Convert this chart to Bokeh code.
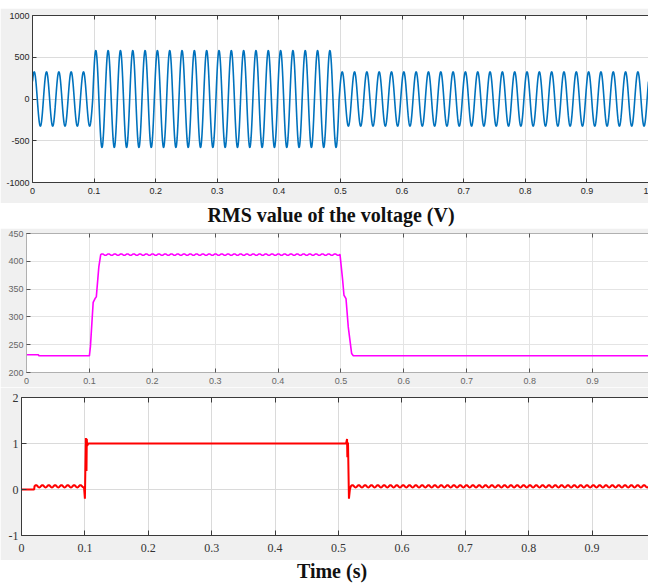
import numpy as np
from bokeh.plotting import figure
from bokeh.models import FixedTicker, LinearAxis, Div, Range1d
from bokeh.layouts import column
from bokeh.embed import file_html
from bokeh.resources import INLINE

# ---------------- data ----------------
# Panel 1: instantaneous voltage (segments of a 50 Hz sine)
v_freq = 50.0
v_phase = 0.7
v_seg_start = [0.0, 0.0978, 0.4978]
v_seg_amp = [325.0, 580.0, 325.0]
v_t_end = 1.0
v_dt = 0.0002

# Panel 2: RMS value of the voltage (breakpoints)
rms_t = [0.0, 0.019, 0.0195, 0.1, 0.1016, 0.106, 0.109, 0.111, 0.115, 0.118,
         0.4985, 0.5027, 0.5048, 0.508, 0.5116, 0.517, 0.5196, 0.99]
rms_v = [232, 232, 230, 230, 246, 326, 333, 336, 390, 412,
         412, 366, 339, 333, 282, 234, 230, 230]
rms_ripple_segs = [9]
rms_ripple_amp = 1.2
rms_ripple_freq = 100.0

# Panel 3: per-unit signal (breakpoints)
sig_t = [0.0, 0.02, 0.0205, 0.0985, 0.1, 0.1015, 0.1025, 0.103, 0.1035, 0.1055,
         0.512, 0.5135, 0.514, 0.515, 0.5165, 0.518, 0.5195, 0.99]
sig_v = [0.0, 0.0, 0.07, 0.07, -0.2, 1.12, 0.4, 1.1, 0.95, 1.0,
         1.0, 1.1, 0.7, 1.02, -0.2, 0.0, 0.07, 0.07]
sig_ripple_segs = [2, 16]
sig_ripple_amp = 0.025
sig_ripple_freq = 100.0

# ticks
x_ticks_1 = [0, 0.1, 0.2, 0.3, 0.4, 0.5, 0.6, 0.7, 0.8, 0.9, 1]
x_labels_1 = ["0", "0.1", "0.2", "0.3", "0.4", "0.5", "0.6", "0.7", "0.8", "0.9", "1"]
y_ticks_1 = [-1000, -500, 0, 500, 1000]
y_labels_1 = ["-1000", "-500", "0", "500", "1000"]
x_ticks_2 = [0, 0.1, 0.2, 0.3, 0.4, 0.5, 0.6, 0.7, 0.8, 0.9]
x_labels_2 = ["0", "0.1", "0.2", "0.3", "0.4", "0.5", "0.6", "0.7", "0.8", "0.9"]
y_ticks_2 = [200, 250, 300, 350, 400, 450]
y_labels_2 = ["200", "250", "300", "350", "400", "450"]
y_ticks_3 = [-1, 0, 1, 2]
y_labels_3 = ["-1", "0", "1", "2"]

title_mid = "RMS value of the voltage (V)"
title_bottom = "Time (s)"

# ---------------- build series ----------------
vt = np.arange(0.0, v_t_end + v_dt / 2, v_dt)
idx = np.searchsorted(np.array(v_seg_start), vt, side="right") - 1
vamp = np.array(v_seg_amp)[idx]
vv = vamp * np.sin(2 * np.pi * v_freq * vt + v_phase)


def with_ripple(ts, vs, segs, amp, freq, step=0.0005):
    xs, ys = [], []
    for i in range(len(ts) - 1):
        xs.append(ts[i]); ys.append(vs[i])
        if i in segs:
            tt = np.arange(ts[i] + step, ts[i + 1], step)
            xs.extend(tt.tolist())
            ys.extend((vs[i] + amp * np.sin(2 * np.pi * freq * (tt - ts[i]))).tolist())
    xs.append(ts[-1]); ys.append(vs[-1])
    return xs, ys


rx, ry = with_ripple(rms_t, rms_v, rms_ripple_segs, rms_ripple_amp, rms_ripple_freq)
sx, sy = with_ripple(sig_t, sig_v, sig_ripple_segs, sig_ripple_amp, sig_ripple_freq)

GRAY = "#f0f0f0"
W = 648


def make_fig(h, xr, yr, left, top, bottom):
    p = figure(width=W, height=h, output_backend="svg", toolbar_location=None,
               x_range=Range1d(*xr), y_range=Range1d(*yr),
               min_border_left=left, min_border_right=0,
               min_border_top=top, min_border_bottom=bottom,
               frame_align=False)
    p.background_fill_color = "white"
    p.border_fill_color = GRAY
    p.outline_line_color = None
    return p


def style(p, xt, xl, yt, yl, font, fsize, lab_col, axis_col, tick_col, grid_col,
          tick_len, xstand, ystand):
    for ax, t, l, st in ((p.xaxis[0], xt, xl, xstand), (p.yaxis[0], yt, yl, ystand)):
        ax.ticker = FixedTicker(ticks=t)
        ax.major_label_overrides = dict(zip(t, l))
        ax.major_label_text_font = font
        ax.major_label_text_font_size = fsize
        ax.major_label_text_color = lab_col
        ax.major_label_standoff = st
        ax.axis_line_color = axis_col
        ax.axis_line_width = 1
        ax.major_tick_line_color = tick_col
        ax.major_tick_in = tick_len
        ax.major_tick_out = 0
        ax.minor_tick_line_color = None
    p.xgrid.ticker = FixedTicker(ticks=xt)
    p.ygrid.ticker = FixedTicker(ticks=yt)
    p.xgrid.grid_line_color = grid_col
    p.ygrid.grid_line_color = grid_col
    top = LinearAxis(ticker=FixedTicker(ticks=xt), major_label_text_font_size="0px",
                     major_label_standoff=0, major_tick_in=tick_len, major_tick_out=0,
                     minor_tick_line_color=None, axis_line_color=axis_col,
                     major_tick_line_color=tick_col)
    top.major_label_overrides = {t: "" for t in xt}
    p.add_layout(top, "above")


spacer = Div(text="", width=W, height=8, margin=(0, 0, 0, 0),
             styles={"background-color": "white"})

# Panel 1
p1 = make_fig(195, (0, 1.0), (-1000, 1000), 32, 7, 21)
p1.line(vt, vv, line_color="#0072BD", line_width=1.6)
style(p1, x_ticks_1, x_labels_1, y_ticks_1, y_labels_1, "Liberation Sans", "9px",
      "#262626", "#3a3a3a", "#3a3a3a", "#dcdcdc", 4, 5, 3)

div1 = Div(text=title_mid, width=W, height=25, margin=(0, 0, 0, 0),
           styles={"font-family": "Liberation Serif", "font-weight": "bold",
                   "font-size": "20px", "text-align": "center", "line-height": "25px",
                   "background-color": "white", "color": "#111111",
                   "padding-left": "14px", "box-sizing": "border-box"})

# Panel 2
p2 = make_fig(159, (0, 0.989), (200, 450), 26, 5, 15)
p2.line(rx, ry, line_color="#FF00FF", line_width=1.6)
style(p2, x_ticks_2, x_labels_2, y_ticks_2, y_labels_2, "Liberation Sans", "9px",
      "#666666", "#b0b0b0", "#555555", "#e4e4e4", 4, 5, 3)

# Panel 3
p3 = make_fig(173, (0, 0.989), (-1, 2), 21, 10, 25)
p3.line(sx, sy, line_color="#FF0000", line_width=2)
style(p3, x_ticks_2, x_labels_2, y_ticks_3, y_labels_3, "Liberation Sans Narrow", "12px",
      "#333333", "#3a3a3a", "#3a3a3a", "#dadada", 5, 8, 3)

div2 = Div(text=title_bottom, width=W, height=22, margin=(0, 0, 0, 0),
           styles={"font-family": "Liberation Serif", "font-weight": "bold",
                   "font-size": "20px", "text-align": "center", "line-height": "22px",
                   "background-color": "white", "color": "#111111",
                   "padding-left": "16px", "box-sizing": "border-box"})

layout = column(spacer, p1, div1, p2, p3, div2, spacing=0)
open("out.html", "w").write(file_html(layout, INLINE))
